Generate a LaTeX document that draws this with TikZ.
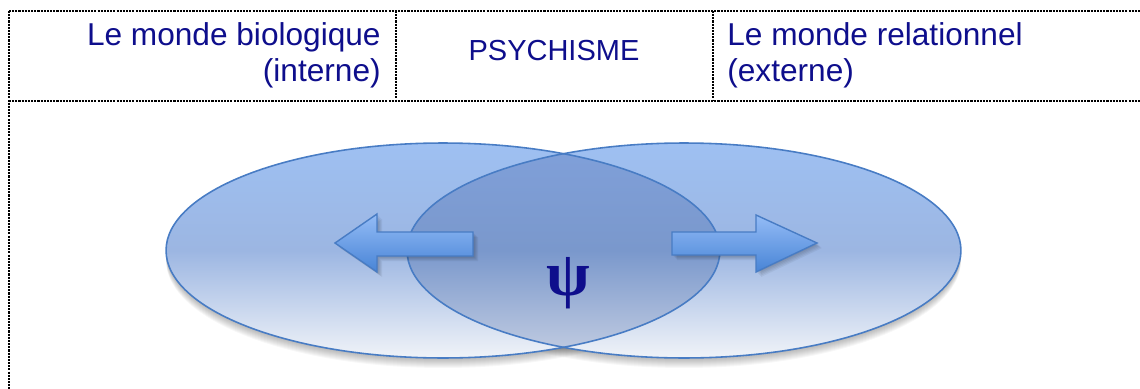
\documentclass[tikz,border=0pt]{standalone}
\usepackage{fontspec}
\setmainfont{Liberation Sans}
\newfontfamily\psifont{Liberation Serif}
\usepackage{xcolor}
\usepackage{tikz}
\usetikzlibrary{shapes,arrows,positioning,backgrounds}
\definecolor{navy}{RGB}{14,14,140}
\definecolor{rim}{RGB}{72,124,196}
\definecolor{skytop}{RGB}{158,192,242}
\definecolor{skymid}{RGB}{156,182,226}
\definecolor{skybot}{RGB}{240,243,248}
\definecolor{deeptop}{RGB}{128,160,218}
\definecolor{deepmid}{RGB}{122,152,204}
\definecolor{deepbot}{RGB}{196,206,226}
\definecolor{flowtop}{RGB}{148,188,246}
\definecolor{flowbot}{RGB}{72,132,214}
\tikzstyle{frame} = [draw, line width=0.8pt, dash pattern=on 1.2pt off 0.6pt]
\tikzstyle{world} = [top color=skytop, bottom color=skybot, middle color=skymid]
\tikzstyle{overlap} = [top color=deeptop, bottom color=deepbot, middle color=deepmid]
\tikzstyle{rimline} = [draw=rim, line width=0.9pt]
\tikzstyle{flow} = [draw=rim, line width=0.8pt, top color=flowtop, bottom color=flowbot]
\tikzstyle{haze} = [fill=black, opacity=0.03]
\tikzset{
    every node/.style={inner sep=0pt, text=navy},
    titletext/.style={font=\fontsize{18}{20}\selectfont},
    smalltext/.style={font=\fontsize{16.5}{19}\selectfont},
    psichar/.style={font=\psifont\bfseries\fontsize{36}{36}\selectfont}
}

\begin{document}
\begin{tikzpicture}[x=0.02cm,y=-0.02cm]
            \useasboundingbox (0,0) rectangle (1140,389);

            % Header cells
            \draw[frame] (9,11) -- (1140,11);
            \draw[frame] (9,101) -- (1140,101);
            \draw[frame] (9,11) -- (9,389);
            \draw[frame] (396,11) -- (396,101);
            \draw[frame] (713,11) -- (713,101);

            % Header texts
            \node[titletext, anchor=base east] (biotop) at (381,45) {Le monde biologique};
            \node[titletext, anchor=base east] (biobot) at (381,81) {(interne)};
            \node[smalltext, anchor=base] (psy) at (554,60.5) {PSYCHISME};
            \node[titletext, anchor=base west] (reltop) at (727,45) {Le monde relationnel};
            \node[titletext, anchor=base west] (relbot) at (727,81) {(externe)};

            % Soft shadows
            \foreach \s in {1,...,10} {
                \fill[haze] (443,250.5+\s) ellipse [x radius=5.54cm, y radius=2.15cm];
                \fill[haze] (684,250.5+\s) ellipse [x radius=5.54cm, y radius=2.15cm];
            }

            % Two worlds
            \path[world] (443,250.5) ellipse [x radius=5.54cm, y radius=2.15cm];
            \path[world] (684,250.5) ellipse [x radius=5.54cm, y radius=2.15cm];
            \begin{scope}
                \clip (443,250.5) ellipse [x radius=5.54cm, y radius=2.15cm];
                \path[overlap] (684,250.5) ellipse [x radius=5.54cm, y radius=2.15cm];
            \end{scope}
            \draw[rimline] (443,250.5) ellipse [x radius=5.54cm, y radius=2.15cm];
            \draw[rimline] (684,250.5) ellipse [x radius=5.54cm, y radius=2.15cm];

            % Arrows
            \foreach \s in {1,...,5} {
                \fill[haze, opacity=0.05] (335+\s,243+\s) -- (377+\s,214+\s) -- (377+\s,232+\s) -- (473+\s,232+\s)
                    -- (473+\s,256+\s) -- (377+\s,256+\s) -- (377+\s,272+\s) -- cycle;
                \fill[haze, opacity=0.05] (817+\s,243+\s) -- (756+\s,215+\s) -- (756+\s,232+\s) -- (672+\s,232+\s)
                    -- (672+\s,255+\s) -- (756+\s,255+\s) -- (756+\s,272+\s) -- cycle;
            }
            \path[flow] (335,243) -- (377,214) -- (377,232) -- (473,232) -- (473,256) -- (377,256) -- (377,272) -- cycle;
            \path[flow] (817,243) -- (756,215) -- (756,232) -- (672,232) -- (672,255) -- (756,255) -- (756,272) -- cycle;

            % Psyche
            \node[psichar] (psi) at (568,283.5) {ψ};
        \end{tikzpicture}
\end{document}
